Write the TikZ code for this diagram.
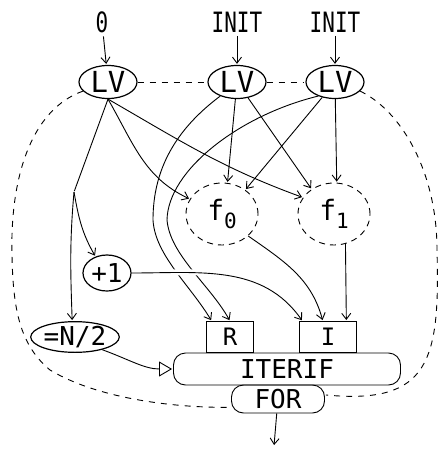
\documentclass[tikz,border=0pt]{standalone}
\usepackage{fontspec}
\newfontfamily\plotfont{DejaVu Sans Mono}
\newfontfamily\plotnarrow[FakeStretch=0.75]{DejaVu Sans Mono}
\usetikzlibrary{arrows.meta,shapes.geometric}
\newcommand{\fsub}[1]{\raisebox{-8pt}{\fontsize{21}{21}\selectfont #1}}

\begin{document}
\begin{tikzpicture}[x=1pt,y=-1pt,->,>={Straight Barb[length=6pt,width=9pt]},shorten >=1pt,auto,node distance=60pt,line width=0.9pt,
    top node/.style={font=\plotnarrow\fontsize{28}{28}\selectfont},
    lv node/.style={ellipse,draw,line width=1.2pt,minimum width=58pt,minimum height=33pt,inner sep=0pt,font=\plotfont\fontsize{29}{29}\selectfont},
    fun node/.style={ellipse,draw,dash pattern=on 6pt off 5pt,minimum width=72pt,minimum height=62pt,inner sep=0pt,font=\plotfont\fontsize{28}{28}\selectfont},
    op node/.style={ellipse,draw,line width=1.2pt,inner sep=0pt,font=\plotfont\fontsize{26}{26}\selectfont},
    port node/.style={rectangle,draw,minimum height=31pt,inner sep=0pt,font=\plotfont\fontsize{24}{24}\selectfont},
    bar node/.style={rectangle,draw,rounded corners=12pt,inner sep=0pt,font=\plotfont\fontsize{26}{26}\selectfont},
    loop line/.style={-,dash pattern=on 6pt off 6pt}]

            \useasboundingbox (0,0) rectangle (438,453);

            \node[top node] (0) at (102,22) {0};
            \node[lv node] (1) at (108,82) {LV};
            \node[lv node] (2) [node distance=129pt, right of = 1] {LV};
            \node[lv node] (3) [node distance=98pt, right of = 2] {LV};
            \node[top node] (4) [above of = 2] {INIT};
            \node[top node] (5) [above of = 3] {INIT};
            \node[fun node] (6) at (222,214) {f\fsub{0}};
            \node[fun node] (7) [node distance=112pt, right of = 6] {f\fsub{1}};
            \node[op node, minimum width=48pt, minimum height=36pt] (8) at (107,273) {+1};
            \node[op node, minimum width=86pt, minimum height=30pt] (9) at (75,337) {=N/2};
            \node[bar node, minimum width=227pt, minimum height=32pt] (12) at (287,369) {ITERIF};
            \node[bar node, minimum width=93pt, minimum height=28pt] (13) at (278,399) {FOR};
            \node[port node, minimum width=47pt] (10) at (230,337) {R};
            \node[port node, minimum width=57pt] (11) [node distance=98pt, right of = 10] {I};
            \coordinate (14) at (274,446);
            \coordinate (15) at (74,192);

            % dashed loop round the body
            \draw[loop line] (1) -- (2);
            \draw[loop line] (2) -- (3);
            \draw[loop line] (1.200) .. controls (30,110) and (10,180) .. (12,255) .. controls (13,310) and (20,345) .. (50,370) .. controls (100,400) and (180,408) .. (13.190);
            \draw[loop line] (3.-20) .. controls (400,110) and (437,170) .. (437,250) .. controls (440,360) and (430,405) .. (13.5);

            % loop variables into R
            \draw (2.-140) .. controls (175,130) and (153,170) .. (153,220) .. controls (155,255) and (190,285) .. (10.139);
            \draw (3.-140) .. controls (240,115) and (168,170) .. (167,220) .. controls (170,255) and (210,285) .. (10.north);

            \path
                (0) edge (1)
                (4) edge (2)
                (5) edge (3)
                (1.south) edge[out=-60,in=155] (6.155)
                (1.south) edge[out=-30,in=160] (7.152)
                (1.south) edge[-] (15)
                (15) edge[out=-80,in=120] (8.125)
                (15) edge[out=-95,in=92] (9.100)
                (2) edge (6.80)
                (2) edge (7.132)
                (3) edge (6.46)
                (3) edge (7.85)
                (6.-40) edge[out=-35,in=105] (11.108)
                (7.-69) edge (11.41)
                (8) edge[out=0,in=125,preaction={draw=white,line width=6pt,-,shorten <=6pt,shorten >=12pt}] (11.148)
                (9.-25) edge[-{Triangle[open,length=13pt,width=15pt]},out=-20,in=180] (12.west)
                (13.-95) edge (14)
            ;
        \end{tikzpicture}
\end{document}
